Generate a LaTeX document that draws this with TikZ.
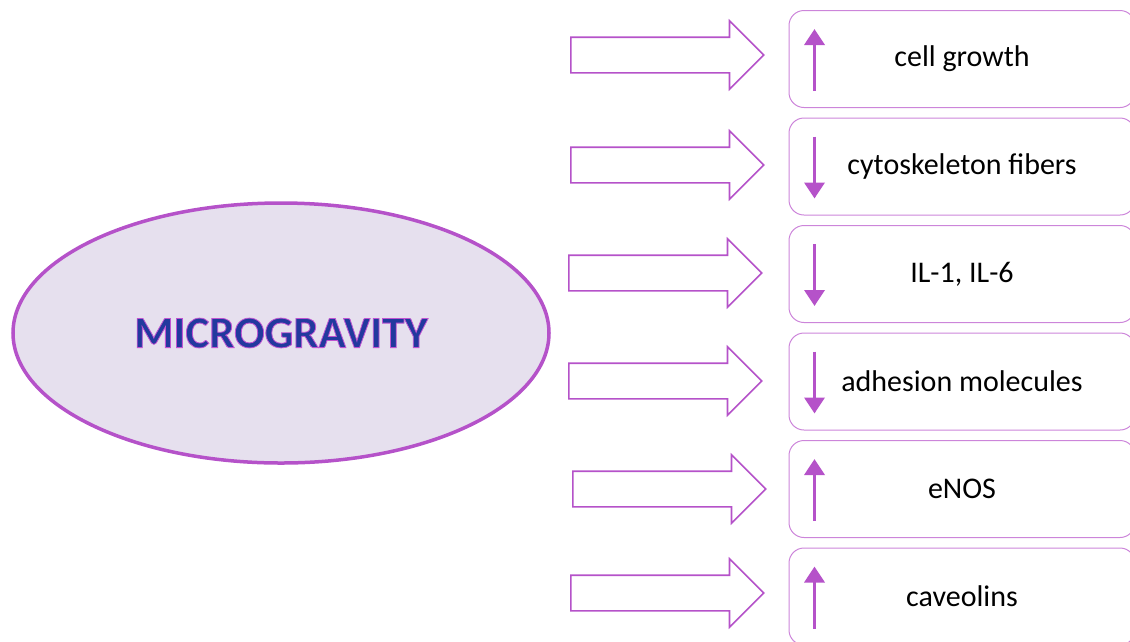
\documentclass[tikz,border=0pt]{standalone}
\usepackage{fontspec}
\setmainfont{Carlito}
\usetikzlibrary{arrows.meta, calc, positioning, shapes.arrows, shapes.geometric}
\definecolor{mgpurple}{HTML}{B552C9}
\definecolor{mgline}{HTML}{CC85DA}
\definecolor{mgfill}{HTML}{E6E0EE}
\definecolor{mgblue}{HTML}{22399E}
% fill + stroke text rendering
\newcommand{\outlinedtext}[1]{\special{pdf:literal direct 2 Tr 0.8 w 0.75 0.33 0.82 RG}#1\special{pdf:literal direct 0 Tr}}

\begin{document}
\begin{tikzpicture}[x=1pt, y=-1pt,
  effect/.style={single arrow, draw=mgpurple, line width=1.6pt, fill=white,
    minimum height=193pt, single arrow head extend=16.5pt, inner xsep=0pt, inner ysep=17pt},
  result/.style={draw=mgline, line width=1pt, rounded corners=15pt,
    minimum width=346pt, minimum height=97pt, font=\fontsize{30}{35}\selectfont},
  trend/.style={mgpurple, line width=3.5pt, -{Triangle[length=16pt, width=20pt]}}]
\useasboundingbox (0,0) rectangle (1130,641);
\node[ellipse, draw=mgpurple, line width=3.5pt, fill=mgfill,
  minimum width=536pt, minimum height=260pt] (mg) at (281,333) {};
\node[text=mgblue, font=\fontsize{45}{50}\bfseries] (title) at (mg) {\outlinedtext{MICROGRAVITY}};
\foreach \i/\y/\ay/\tx/\txt in {1/59/55/570/cell growth,
    2/166.5/165/570/cytoskeleton fibers,
    3/274/273/568/{IL-1, IL-6},
    4/381.5/381/568/adhesion molecules,
    5/489/489/572/eNOS,
    6/596.5/593/570/caveolins}{
  \node[effect, anchor=tail] (a\i) at (\tx,\ay) {};
  \node[result] (r\i) at (962,\y) {\txt};
  \coordinate (t\i) at ($(r\i.west)+(26,-30)$);
  \coordinate (b\i) at ($(r\i.west)+(26,32)$);
}
\foreach \i in {1,5,6} \draw[trend] (b\i) -- (t\i);
\foreach \i in {2,3,4} \draw[trend] (t\i) -- (b\i);
\end{tikzpicture}
\end{document}
